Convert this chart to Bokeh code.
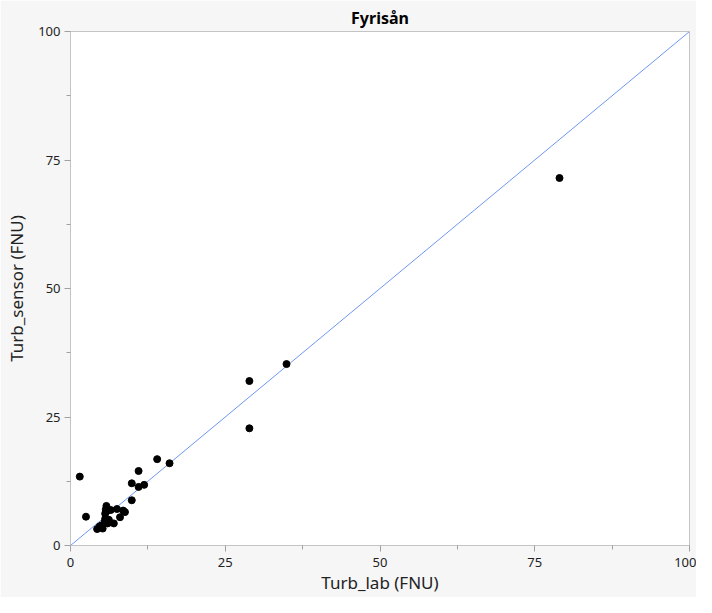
from bokeh.plotting import figure
from bokeh.models import FixedTicker, Range1d
from bokeh.embed import file_html
from bokeh.resources import INLINE

# Data
turb_lab = [1.5, 2.5, 4.3, 4.7, 5.0, 5.2, 5.5, 5.6, 5.6, 5.7, 5.8, 5.8, 6.0, 6.2, 6.5,
            7.0, 7.5, 8.0, 8.5, 8.8, 9.9, 9.9, 11.0, 11.0, 11.9, 14.0, 16.0,
            28.9, 28.9, 34.9, 79.0]
turb_sensor = [13.4, 5.6, 3.2, 3.7, 3.9, 3.3, 4.5, 5.2, 6.2, 7.0, 7.7, 6.6, 4.3, 5.0, 6.9,
               4.3, 7.1, 5.5, 6.8, 6.5, 8.8, 12.1, 14.5, 11.4, 11.8, 16.8, 16.0,
               32.0, 22.8, 35.3, 71.5]
ref_line = [0, 100]
major_ticks = [0, 25, 50, 75, 100]
minor_ticks = [12.5, 37.5, 62.5, 87.5]

FONT = "Noto Sans"
BG = "#f6f6f6"
GRID = "#c4c4c4"

p = figure(width=696, height=597, output_backend="svg", toolbar_location=None,
           x_range=Range1d(0, 100), y_range=Range1d(0, 100),
           min_border_left=70, min_border_right=7, min_border_top=31, min_border_bottom=52,
           title="Fyrisån")
p.background_fill_color = "white"
p.border_fill_color = BG
p.outline_line_color = GRID
p.outline_line_width = 1
p.xgrid.visible = False
p.ygrid.visible = False

p.title.align = "center"
p.title.text_font = FONT
p.title.text_font_size = "16px"
p.title.text_font_style = "bold"
p.title.text_color = "black"
p.title.offset = 0
p.title.standoff = 6

for ax in (p.xaxis[0], p.yaxis[0]):
    ax.ticker = FixedTicker(ticks=major_ticks, minor_ticks=minor_ticks)
    ax.axis_line_color = GRID
    ax.major_tick_line_color = "#a0a0a0"
    ax.minor_tick_line_color = "#a0a0a0"
    ax.major_tick_out = 6
    ax.major_tick_in = 0
    ax.minor_tick_out = 4
    ax.minor_tick_in = 0
    ax.major_label_text_font = FONT
    ax.major_label_text_font_size = "13px"
    ax.major_label_text_color = "#222222"
    ax.axis_label_text_font = FONT
    ax.axis_label_text_font_size = "17px"
    ax.axis_label_text_font_style = "normal"
    ax.axis_label_text_color = "#222222"

p.xaxis.axis_label = "Turb_lab (FNU)"
p.yaxis.axis_label = "Turb_sensor (FNU)"
p.xaxis.major_label_standoff = 6
p.xaxis.axis_label_standoff = 1
p.yaxis.major_label_standoff = 4
p.yaxis.axis_label_standoff = 7

p.line(ref_line, ref_line, line_color="#6d97f0", line_width=1)
p.scatter(turb_lab, turb_sensor, size=7, color="black")

html = file_html(p, INLINE, title="Fyrisån")
open("out.html", "w").write(html)
